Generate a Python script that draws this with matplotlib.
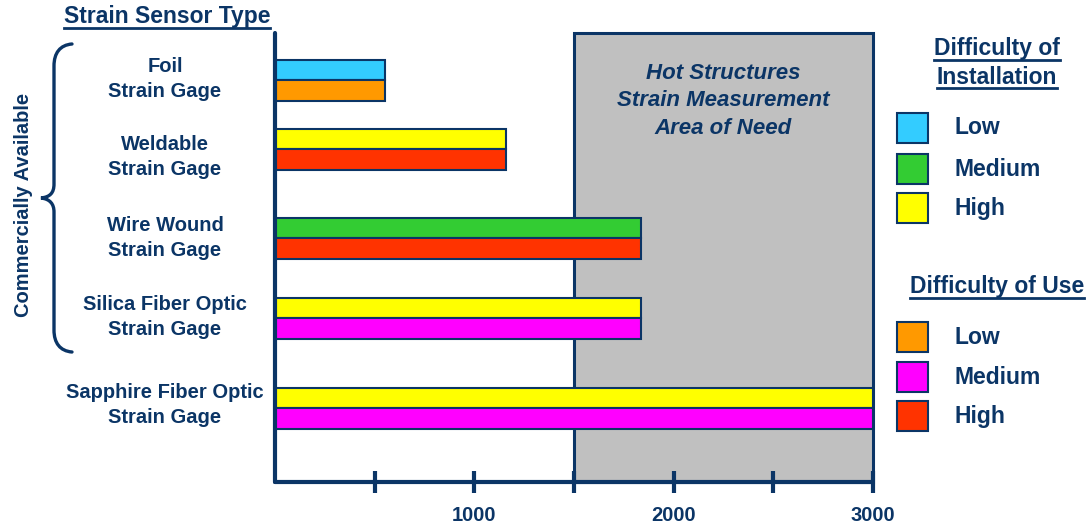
import matplotlib
matplotlib.use('Agg')
from matplotlib import pyplot as plt
from matplotlib.patches import Rectangle, PathPatch
from matplotlib.path import Path

#Data
sensors = ["Foil\nStrain Gage", "Weldable\nStrain Gage", "Wire Wound\nStrain Gage",
           "Silica Fiber Optic\nStrain Gage", "Sapphire Fiber Optic\nStrain Gage"]
max_temp = [550, 1160, 1835, 1835, 3000]
install_level = ["Low", "High", "Medium", "High", "High"]
use_level = ["Low", "High", "High", "Medium", "Medium"]
levels = ["Low", "Medium", "High"]
tick_values = [500, 1000, 1500, 2000, 2500, 3000]
tick_labels = ["", "1000", "", "2000", "", "3000"]
need_range = [1500, 3000]

#Colours
navy = '#0b3566'
install_colors = {"Low": '#33ccff', "Medium": '#33cc33', "High": '#ffff00'}
use_colors = {"Low": '#ff9900', "Medium": '#ff00ff', "High": '#ff3300'}

#Layout (pixel rows of the original picture)
row_y = [47, 116, 205, 285, 375]
label_y = [79, 157, 238, 317, 405]
bar_h = 20.5

plt.rcParams['font.family'] = ['Liberation Sans', 'DejaVu Sans']
plt.rcParams['font.weight'] = 'bold'

W, H = 1087, 525
fig = plt.figure(figsize=(W / 100, H / 100), dpi=100)
ax = fig.add_axes([275 / W, (H - 482) / H, 598 / W, 449 / H])
ax.set_xlim(0, 3000)
ax.set_ylim(449, 0)

#Area of need box
ax.add_patch(Rectangle((need_range[0], 0), need_range[1] - need_range[0], 449,
                       facecolor='#c0c0c0', edgecolor=navy, lw=2.2, zorder=0, clip_on=False))
ax.text(sum(need_range) / 2, 68, "Hot Structures\nStrain Measurement\nArea of Need",
        ha='center', va='center', fontsize=16, style='italic', color=navy, linespacing=1.42)

#Bars
for i in range(len(sensors)):
    ax.barh(row_y[i] - bar_h / 2, max_temp[i], height=bar_h,
            color=install_colors[install_level[i]], edgecolor=navy, lw=1.5, zorder=2)
    ax.barh(row_y[i] + bar_h / 2, max_temp[i], height=bar_h,
            color=use_colors[use_level[i]], edgecolor=navy, lw=1.5, zorder=2)

for s in ['top', 'right']:
    ax.spines[s].set_visible(False)
for s in ['left', 'bottom']:
    ax.spines[s].set_color(navy)
    ax.spines[s].set_linewidth(3)
    ax.spines[s].set_capstyle('round')
    ax.spines[s].set_zorder(3)

ax.set_xticks(tick_values)
ax.set_xticklabels(tick_labels, fontsize=14.5, color=navy, fontweight='bold')
ax.tick_params(axis='x', direction='inout', length=16, width=3, color=navy, pad=9)
ax.set_yticks([])

#Overlay in pixel coordinates for the annotations
ov = fig.add_axes([0, 0, 1, 1], facecolor='none')
ov.set_xlim(0, W)
ov.set_ylim(H, 0)
ov.axis('off')

texts = []
def label(x, y, s, size=16.5, underline=False, ha='center'):
    t = ov.text(x, y, s, ha=ha, va='center', fontsize=size, color=navy)
    if underline:
        texts.append(t)
    return t

#Sensor names
for i, name in enumerate(sensors):
    ov.text(165, label_y[i], name, ha='center', va='center', fontsize=14.5,
            color=navy, linespacing=1.35)

label(167, 17, "Strain Sensor Type", underline=True)
label(997, 49, "Difficulty of", underline=True)
label(997, 77, "Installation", underline=True)
label(997, 287, "Difficulty of Use", underline=True)

ov.text(24, 205, "Commercially Available", rotation=90, ha='center', va='center',
        fontsize=14.5, color=navy)

#Legend swatches
for j, lev in enumerate(levels):
    yc = [128, 169, 208][j]
    ov.add_patch(Rectangle((897, yc - 15), 31, 30, facecolor=install_colors[lev],
                           edgecolor=navy, lw=1.5))
    label(954, yc, lev, ha='left')
    yc = [337, 377, 416][j]
    ov.add_patch(Rectangle((897, yc - 15), 31, 30, facecolor=use_colors[lev],
                           edgecolor=navy, lw=1.5))
    label(954, yc, lev, ha='left')

#Brace
verts = [(72, 44), (60, 45), (54, 53), (54, 66),
         (54, 184),
         (54, 193), (50, 197), (41, 198),
         (50, 199), (54, 204), (54, 212),
         (54, 330),
         (54, 343), (60, 351), (72, 352)]
codes = [Path.MOVETO, Path.CURVE4, Path.CURVE4, Path.CURVE4,
         Path.LINETO,
         Path.CURVE4, Path.CURVE4, Path.CURVE4,
         Path.CURVE4, Path.CURVE4, Path.CURVE4,
         Path.LINETO,
         Path.CURVE4, Path.CURVE4, Path.CURVE4]
ov.add_patch(PathPatch(Path(verts, codes), facecolor='none', edgecolor=navy, lw=2.4,
                       capstyle='round'))

#Underlines from the rendered text extents
fig.canvas.draw()
renderer = fig.canvas.get_renderer()
inv = ov.transData.inverted()
for t in texts:
    bb = t.get_window_extent(renderer)
    (x0, y0), (x1, y1) = inv.transform([(bb.x0, bb.y0), (bb.x1, bb.y1)])
    ov.plot([x0, x1], [y0 - 1, y0 - 1], color=navy, lw=2)

plt.savefig('out.png', dpi=100)
